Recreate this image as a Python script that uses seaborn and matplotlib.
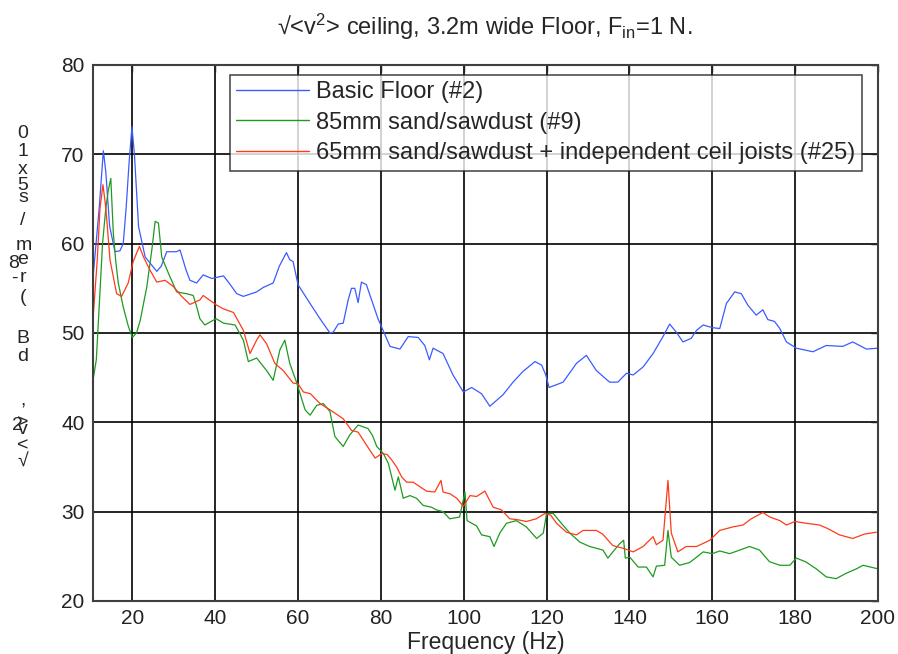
import numpy as np
import pandas as pd
import matplotlib
matplotlib.use("Agg")
import matplotlib.pyplot as plt
import seaborn as sns

# ---- data ----
basic_f = [10.6, 12.0, 13.0, 13.6, 14.5, 15.8, 17.0, 17.8, 18.5, 19.2, 19.9, 20.5, 21.5, 23.1,
           25.9, 27.0, 28.3, 30.7, 31.5, 33.0, 33.9, 35.5, 37.1, 39.2, 42.0, 43.5, 45.2, 46.8,
           50.0, 51.6, 54.0, 55.5, 57.2, 58.0, 58.8, 60.0, 62.9, 65.3, 67.7, 68.5, 69.7, 70.9,
           72.1, 72.9, 73.7, 74.5, 75.3, 76.5, 79.3, 82.2, 84.6, 86.6, 89.0, 90.6, 91.7, 92.6,
           95.0, 97.4, 99.9, 101.9, 104.3, 106.3, 109.5, 111.9, 114.3, 117.2, 118.8, 119.8,
           120.6, 124.0, 127.2, 129.6, 132.0, 135.2, 137.2, 139.3, 140.9, 143.3, 145.7, 148.1,
           149.7, 151.3, 152.9, 154.9, 156.2, 157.8, 160.0, 161.8, 163.4, 165.4, 167.0, 168.6,
           170.6, 172.2, 173.4, 175.0, 176.3, 177.9, 180.3, 184.3, 187.5, 191.5, 193.9, 197.2, 200.0]
basic_v = [56.7, 64.0, 70.4, 68.0, 62.0, 59.1, 59.2, 60.0, 64.0, 69.0, 73.1, 70.0, 61.9, 58.5,
           56.9, 57.5, 59.1, 59.1, 59.3, 57.0, 55.9, 55.6, 56.5, 56.1, 56.4, 55.5, 54.4, 54.1,
           54.6, 55.1, 55.6, 57.5, 59.0, 58.2, 58.0, 55.4, 53.3, 51.6, 50.0, 50.1, 51.0, 51.1,
           53.7, 55.0, 55.0, 53.4, 55.7, 55.4, 51.6, 48.5, 48.2, 49.6, 49.5, 48.6, 47.0, 48.3,
           47.7, 45.3, 43.4, 43.9, 43.2, 41.8, 43.1, 44.5, 45.7, 46.8, 46.4, 45.3,
           43.9, 44.5, 46.6, 47.5, 45.8, 44.5, 44.5, 45.5, 45.3, 46.2, 47.7, 49.6,
           51.0, 50.1, 49.0, 49.4, 50.3, 50.9, 50.6, 50.5, 53.3, 54.6, 54.4, 53.1,
           52.0, 52.6, 51.5, 51.3, 50.5, 49.0, 48.3, 47.9, 48.6, 48.5, 49.0, 48.2, 48.3]

sand85_f = [10.6, 11.3, 12.0, 12.8, 13.6, 14.2, 14.8, 15.4, 16.0, 16.6, 17.8, 19.0, 20.0, 21.0,
            21.9, 23.5, 24.7, 25.5, 26.3, 27.1, 28.7, 30.7, 33.1, 34.7, 35.5, 36.3, 37.5, 40.2,
            42.0, 44.8, 46.8, 48.0, 50.0, 52.4, 54.0, 55.6, 56.8, 58.0, 59.7, 61.7, 62.9, 64.5,
            66.1, 67.7, 68.9, 70.9, 72.5, 74.5, 76.9, 78.0, 79.0, 80.6, 81.8, 83.4, 84.2, 85.4,
            87.0, 88.6, 90.2, 92.2, 93.4, 95.0, 96.6, 99.0, 100.3, 100.8, 103.1, 104.3, 106.3,
            107.3, 108.7, 110.3, 112.7, 115.1, 117.6, 119.2, 120.0, 121.6, 123.2, 125.6, 128.0,
            130.4, 133.6, 134.8, 136.0, 137.6, 138.6, 139.0, 140.1, 142.1, 144.1, 145.7, 146.5,
            148.5, 149.3, 150.1, 152.1, 154.5, 156.2, 157.8, 160.0, 161.8, 164.2, 166.6, 169.0,
            171.4, 173.8, 176.3, 178.7, 180.3, 182.5, 185.1, 187.5, 189.9, 192.3, 194.8, 196.4, 200.0]
sand85_v = [45.0, 47.0, 53.0, 60.0, 64.0, 66.0, 67.3, 61.2, 58.0, 55.6, 52.9, 50.8, 49.5, 50.0,
            51.4, 55.2, 59.3, 62.5, 62.3, 58.5, 56.7, 54.6, 54.4, 54.2, 53.0, 51.6, 50.9, 51.6,
            51.1, 50.9, 49.2, 46.8, 47.2, 45.8, 44.7, 48.1, 49.2, 46.6, 44.4, 41.4, 40.8, 41.9,
            42.1, 41.2, 38.4, 37.3, 38.6, 39.7, 39.3, 38.5, 37.3, 36.5, 35.4, 32.4, 33.9, 31.5,
            31.8, 31.5, 30.7, 30.5, 30.2, 30.0, 29.2, 29.4, 32.2, 29.0, 28.4, 27.4, 27.2,
            26.1, 27.6, 28.7, 29.0, 28.3, 27.0, 27.6, 29.8, 29.8, 28.9, 27.6, 26.6,
            26.1, 25.7, 24.8, 25.5, 26.4, 26.8, 24.8, 24.9, 23.8, 23.8, 22.7, 23.9,
            24.0, 27.9, 24.9, 24.0, 24.3, 24.9, 25.5, 25.3, 25.6, 25.3, 25.7, 26.1,
            25.7, 24.4, 24.0, 24.0, 24.8, 24.4, 23.6, 22.7, 22.5, 23.1, 23.6, 24.0, 23.6]

sand65_f = [10.6, 11.5, 12.2, 12.9, 13.6, 14.6, 16.2, 17.4, 19.0, 20.2, 21.7, 22.7, 24.3, 25.9,
            27.9, 29.9, 31.9, 33.9, 36.3, 37.1, 40.4, 42.0, 44.4, 46.8, 48.4, 50.0, 50.8, 52.4,
            54.4, 56.4, 58.8, 60.0, 61.3, 63.0, 65.3, 67.7, 70.9, 72.9, 74.5, 77.3, 78.6, 80.2,
            81.5, 82.6, 83.8, 85.0, 86.2, 87.8, 89.4, 91.0, 93.0, 94.5, 95.0, 96.7, 98.3, 99.9,
            101.5, 103.1, 105.1, 107.1, 109.1, 111.1, 113.0, 115.1, 117.5, 119.6, 121.0, 122.4,
            124.8, 127.2, 128.8, 132.0, 133.5, 136.0, 138.5, 140.9, 143.3, 145.7, 146.5, 148.1,
            149.3, 150.1, 151.7, 153.7, 156.2, 159.4, 161.8, 165.0, 167.4, 169.4, 172.2, 173.9,
            176.3, 177.9, 179.9, 182.7, 185.9, 187.9, 190.7, 193.9, 196.8, 199.6]
sand65_v = [52.2, 58.0, 64.0, 66.6, 64.0, 58.2, 54.4, 54.1, 55.6, 58.0, 59.7, 58.5, 57.0, 55.7,
            55.9, 55.2, 54.1, 53.2, 53.7, 54.2, 53.1, 52.7, 52.3, 50.3, 47.7, 49.2, 49.8, 48.8,
            46.6, 45.8, 44.4, 44.3, 43.4, 43.2, 42.1, 41.4, 40.4, 39.1, 38.9, 36.9, 36.0, 36.5,
            36.4, 35.8, 35.0, 33.9, 33.3, 33.3, 32.8, 32.3, 32.2, 33.5, 32.2, 32.0, 31.5, 30.6,
            31.8, 31.7, 32.3, 30.5, 30.2, 29.2, 29.1, 28.9, 29.2, 29.8, 29.6, 28.7,
            27.7, 27.4, 27.9, 27.9, 27.5, 26.2, 25.9, 25.5, 26.1, 27.2, 26.3, 26.8,
            33.5, 27.6, 25.5, 26.1, 26.1, 26.8, 27.9, 28.3, 28.5, 29.2, 29.9, 29.4,
            29.0, 28.5, 28.9, 28.7, 28.5, 28.1, 27.4, 27.0, 27.5, 27.7]

labels = ["Basic Floor (#2)",
          "85mm sand/sawdust (#9)",
          "65mm sand/sawdust + independent ceil joists (#25)"]
colors = ["#3b5bff", "#1f9a1f", "#ff3a1a"]

xticks = [20, 40, 60, 80, 100, 120, 140, 160, 180, 200]
yticks = [20, 30, 40, 50, 60, 70, 80]

# ---- build long-form table ----
frames = []
for lab, f, v in zip(labels, [basic_f, sand85_f, sand65_f], [basic_v, sand85_v, sand65_v]):
    frames.append(pd.DataFrame({"freq": f, "level": v, "series": lab}))
df = pd.concat(frames, ignore_index=True)

sns.set_style("white")
plt.rcParams["font.family"] = ["Liberation Sans", "DejaVu Sans"]
plt.rcParams["mathtext.fontset"] = "custom"
plt.rcParams["mathtext.rm"] = "Liberation Sans"
plt.rcParams["mathtext.it"] = "Liberation Sans"

fig = plt.figure(figsize=(8.98, 6.54), dpi=100)
ax = fig.add_axes([93 / 898, 1 - 601 / 654, (878 - 93) / 898, (601 - 65) / 654])

sns.lineplot(data=df, x="freq", y="level", hue="series", hue_order=labels,
             palette=colors, sort=False, estimator=None, linewidth=0.9, ax=ax)

ax.set_xlim(10.5, 200)
ax.set_ylim(20, 80)
ax.set_xticks(xticks)
ax.set_yticks(yticks)
ax.tick_params(direction="in", top=True, right=True, length=5, width=1,
               labelsize=15, colors="#222222", pad=6)
ax.grid(True, color="black", linewidth=1.2)
for s in ax.spines.values():
    s.set_color("#404040")
    s.set_linewidth(1.5)
ax.set_xlabel("Frequency (Hz)", fontsize=16.5, labelpad=2)
ax.set_ylabel("")

leg = ax.legend(loc="upper right", bbox_to_anchor=(0.98, 0.982), fontsize=17,
                frameon=True, fancybox=False, edgecolor="#222222",
                handlelength=3.1, handletextpad=0.3, borderpad=0.28,
                labelspacing=0.36, borderaxespad=0)
leg.get_frame().set_linewidth(1.2)
for line in leg.get_lines():
    line.set_linewidth(1.0)

fig.text(485 / 898, 1 - 27 / 654,
         r"√<v$^2$> ceiling, 3.2m wide Floor, F$_{\mathrm{in}}$=1 N.",
         ha="center", va="center", fontsize=17)

# y-axis label as rendered in the reference (characters stacked upright)
ychars = [("0", 23, 133), ("1", 23, 152), ("x", 23, 170), ("5", 23, 185), ("s", 23, 197),
          ("/", 23, 220), ("m", 24, 245), ("e", 23, 259), ("8", 14, 263), ("-", 14, 278),
          ("r", 23, 278), ("(", 23, 298), ("B", 23, 338), ("d", 23, 357), (",", 23, 401),
          (">", 23, 423), ("2", 17, 426), ("v", 23, 430), ("<", 23, 446), ("√", 23, 462)]
for ch, px, py in ychars:
    fig.text(px / 898, 1 - py / 654, ch, ha="center", va="center", fontsize=14)

fig.savefig("out.png", dpi=100)
